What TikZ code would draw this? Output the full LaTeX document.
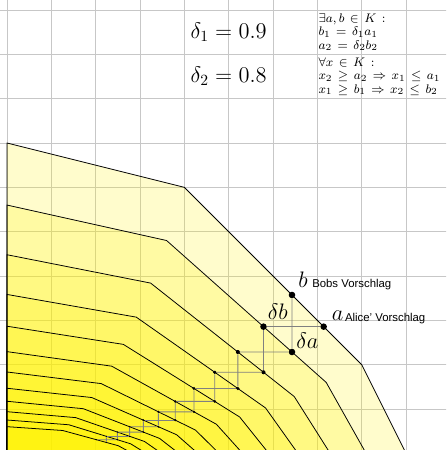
\documentclass[tikz,border=0pt]{standalone}
\usepackage{fontspec}
\setsansfont{Liberation Sans}
\definecolor{fillyel}{RGB}{255,242,0}
\newcommand\widerelspace{\thickmuskip=7.5mu plus 2mu\relax}
\begin{document}
\begin{tikzpicture}[x=1cm,y=1cm,
  gridline/.style={draw=black!22, line width=0.5pt},
  level/.style={fill=fillyel, fill opacity=0.2, draw=black, line width=0.5pt},
  rung/.style={draw=black!50, line width=0.6pt},
  dotnode/.style={circle, fill=black, inner sep=0pt, minimum size=#1},
  mlabel/.style={anchor=base west, inner sep=0pt, font=\Large},
  slabel/.style={anchor=base west, inner sep=0pt, font=\fontsize{7.3}{8}\selectfont\sffamily},
  bigtext/.style={font=\Large, inner sep=0pt},
  smalltext/.style={anchor=west, align=left, inner sep=0pt, font=\fontsize{8.5}{8.6}\selectfont\widerelspace},
  ]
\useasboundingbox (-0.158,0.075) rectangle (9.903,10.226);
\clip (-0.158,0.075) rectangle (9.903,10.226);
\draw[gridline] (-1,-1) grid (11,11);
\foreach \k in {0,...,11} {
  \pgfmathsetmacro\sa{0.9^\k}
  \pgfmathsetmacro\sb{0.8^\k}
  \path[level] (0,0) -- (0,7*\sb) -- (4*\sa,6*\sb) -- (8*\sa,2*\sb) -- (9*\sa,0) -- cycle;
}
\foreach \k in {0,...,11} {
  \pgfmathsetmacro\sa{0.9^\k}
  \pgfmathsetmacro\sb{0.8^\k}
  \pgfmathsetmacro\ds{\k<2 ? 4.2 : 2.6*0.87^(\k-2)}
  \node[dotnode=\ds pt] (a\k) at (7.142857*\sa, 2.857143*\sb) {};
  \node[dotnode=\ds pt] (b\k) at (6.428571*\sa, 3.571429*\sb) {};
}
\foreach \k [evaluate=\k as \n using int(\k+1)] in {0,...,10} {
  \draw[rung] (b\k) -- (a\n);
  \draw[rung] (a\k) -- (b\n);
}
\node[mlabel, xshift=3.9pt, yshift=4.5pt] (lb) at (b0) {$b$};
\node[slabel, xshift=12.8pt, yshift=4.5pt] (lbt) at (b0) {Bobs Vorschlag};
\node[mlabel, xshift=5pt, yshift=3.9pt] (la) at (a0) {$a$};
\node[slabel, xshift=13.5pt, yshift=3.2pt] (lat) at (a0) {Alice' Vorschlag};
\node[mlabel, xshift=2.6pt, yshift=4.5pt] (ldb) at (b1) {$\delta b$};
\node[mlabel, xshift=2.6pt, yshift=2pt] (lda) at (a1) {$\delta a$};
\node[bigtext] (d1) at (5,9.5) {$\delta_1 = 0.9$};
\node[bigtext] (d2) at (5,8.5) {$\delta_2 = 0.8$};
\node[smalltext] (c1) at (7.02,9.5) {$\exists a,b\in K:$\\ $b_1=\delta_1 a_1$\\ $a_2=\delta_2 b_2$};
\node[smalltext] (c2) at (7.02,8.5) {$\forall x\in K:$\\ $x_2\geq a_2\Rightarrow x_1\leq a_1$\\ $x_1\geq b_1\Rightarrow x_2\leq b_2$};
\end{tikzpicture}
\end{document}
